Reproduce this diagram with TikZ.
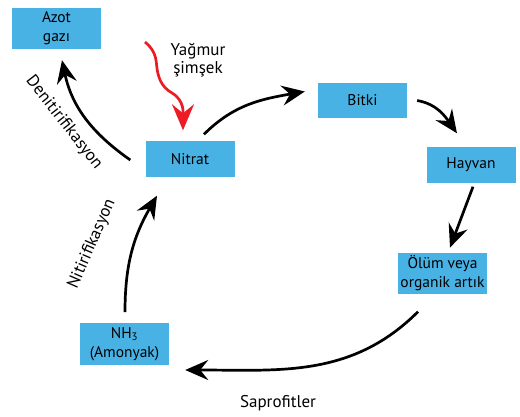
\documentclass[tikz,border=0pt]{standalone}
\usepackage{fontspec}
\setmainfont{PT Sans}
\usetikzlibrary{arrows.meta}
\definecolor{kutumavi}{RGB}{72,178,228}
\definecolor{yagmurkirmizi}{RGB}{237,28,36}

\begin{document}
\begin{tikzpicture}[x=1pt,y=1pt,
  kutu/.style={fill=kutumavi,minimum width=89pt,minimum height=35pt,align=center,inner sep=1pt,font=\fontsize{15.5}{19}\selectfont},
  ok/.style={line width=2.7pt,-{Stealth[length=23pt,width=20pt,inset=8pt]}},
  yazi/.style={align=center,font=\fontsize{17}{18}\selectfont}]
\useasboundingbox (0,0) rectangle (520,416);
\node[kutu,minimum height=41pt] (azot) at (56.5,387.5) {Azot\\gazı};
\node[kutu] (nitrat) at (190,257) {Nitrat};
\node[kutu] (bitki) at (362.5,315.5) {Bitki};
\node[kutu] (hayvan) at (471,251) {Hayvan};
\node[kutu,minimum height=41pt] (olum) at (442.5,143) {Ölüm veya\\organik artık};
\node[kutu,minimum height=42pt] (nh3) at (124.5,72) {NH\textsubscript{3}\\(Amonyak)};
\coordinate (yagmur) at (145,374);
% etiketler
\node[yazi] (yagsimsek) at (198,356) {Yağmur\\şimşek};
\node[yazi,rotate=-52] (denit) at (64,293) {Denitirifikasyon};
\node[yazi,rotate=66.5] (nitrif) at (92,172) {Nitirifikasyon};
\node[yazi] (sapro) at (278,13) {Saprofitler};
% oklar
\draw[ok] ([shift={(14,7)}]nitrat.north) to[out=45,in=190] ([shift={(-13,9)}]bitki.west);
\draw[ok] ([shift={(10,0)}]bitki.east) to[out=-10,in=125] ([shift={(-14,14)}]hayvan.north);
\draw[ok] ([shift={(2,-4)}]hayvan.south) -- ([shift={(7.5,4.7)}]olum.north);
\draw[ok] ([shift={(-24.5,-18)}]olum.south) to[out=-135,in=0] ([shift={(16,-26)}]nh3.east);
\draw[ok] ([shift={(0.5,10.7)}]nh3.north) to[out=90,in=-120] ([shift={(-33,-19)}]nitrat.south);
\draw[ok] ([shift={(-15,-1)}]nitrat.west) to[out=145,in=-78] ([shift={(5.5,-11)}]azot.south);
\draw[ok,yagmurkirmizi,-{Stealth[length=26pt,width=22pt,inset=9pt]}] (yagmur) to[out=-40,in=95] (156.5,352) to[out=-85,in=150] (172,323) to[out=-30,in=90] ([shift={(-7,11)}]nitrat.north);
\end{tikzpicture}
\end{document}
